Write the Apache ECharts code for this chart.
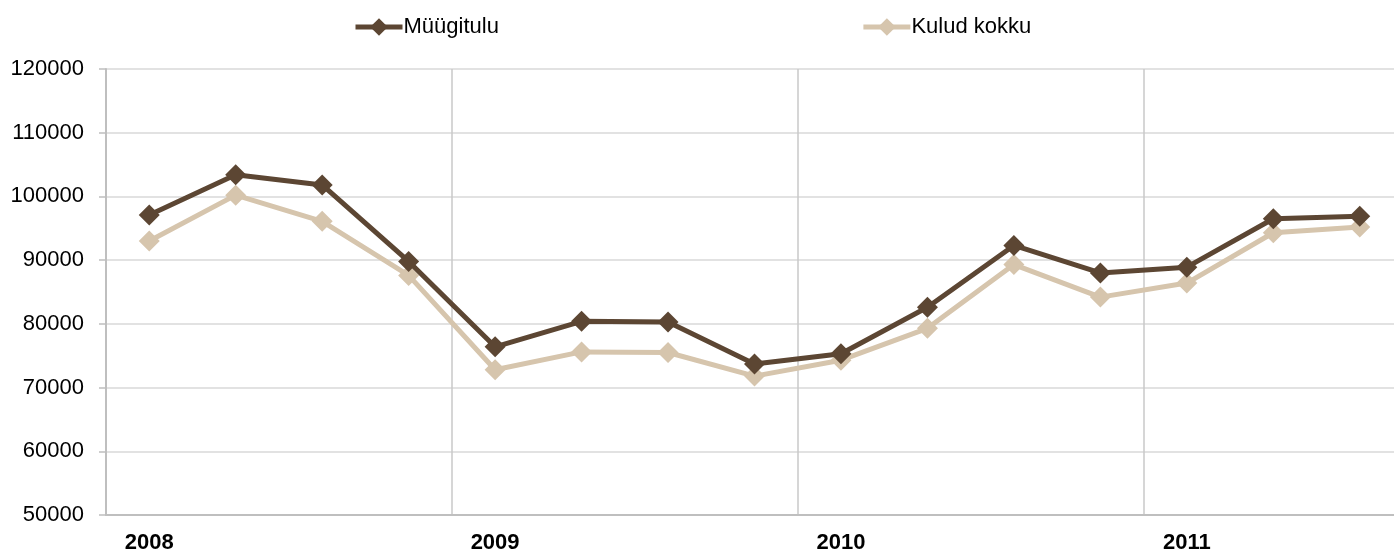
<!DOCTYPE html>
<html>
<head>
<meta charset="utf-8">
<script src="https://cdn.jsdelivr.net/npm/echarts@6/dist/echarts.min.js"></script>
<style>
html,body{margin:0;padding:0;background:#fff;}
#chart{width:1394px;height:551px;}
</style>
</head>
<body>
<div id="chart"></div>
<script>
const categories = ['2008 I','2008 II','2008 III','2008 IV','2009 I','2009 II','2009 III','2009 IV','2010 I','2010 II','2010 III','2010 IV','2011 I','2011 II','2011 III'];
const myygitulu = [97100, 103400, 101800, 89800, 76400, 80400, 80300, 73700, 75300, 82600, 92300, 88000, 88900, 96500, 96900];
const kuludKokku = [93000, 100200, 96100, 87600, 72800, 75600, 75500, 71800, 74300, 79300, 89300, 84200, 86400, 94300, 95200];
const seriesNames = ['Müügitulu', 'Kulud kokku'];

const chart = echarts.init(document.getElementById('chart'));
const font = '"Liberation Sans", Arial, sans-serif';
const c1 = '#5c4633', c2 = '#d6c5ad';
chart.setOption({
  animation: false,
  textStyle: {fontFamily: font},
  legend: {
    left: 353, top: 16, padding: 0,
    itemWidth: 47, itemHeight: 22, itemGap: 362,
    textStyle: {fontSize: 22, color: '#000', fontFamily: font, padding: [0,0,0,-4]},
    data: [
      {name: seriesNames[0], lineStyle: {width: 5, color: c1}, itemStyle: {color: c1}},
      {name: seriesNames[1], lineStyle: {width: 5, color: c2}, itemStyle: {color: c2}}
    ]
  },
  grid: {left: 106, top: 69, width: 1297, height: 446, containLabel: false, outerBoundsMode: 'none'},
  xAxis: {
    type: 'category', data: categories, boundaryGap: true,
    axisLine: {lineStyle: {color: '#bfbfbf', width: 2}},
    axisTick: {show: false, interval: 3},
    axisLabel: {interval: 3, margin: 17, fontSize: 22, fontWeight: 'bold', color: '#000', fontFamily: font,
      formatter: v => v.split(' ')[0]},
    splitLine: {show: true, interval: 3, lineStyle: {color: '#c8c8c8', width: 1.5}}
  },
  yAxis: {
    type: 'value', min: 50000, max: 120000, interval: 10000,
    axisLine: {show: true, lineStyle: {color: '#bfbfbf', width: 2}},
    axisTick: {show: true, length: 7, lineStyle: {color: '#bfbfbf', width: 1.5}},
    axisLabel: {margin: 22, fontSize: 22, color: '#000', fontFamily: font, formatter: v => String(v)},
    splitLine: {lineStyle: {color: '#d9d9d9', width: 1.5}}
  },
  series: [
    {name: seriesNames[0], type: 'line', data: myygitulu, z: 3,
      symbol: 'diamond', symbolSize: 21,
      lineStyle: {color: c1, width: 5},
      itemStyle: {color: c1}},
    {name: seriesNames[1], type: 'line', data: kuludKokku, z: 2,
      symbol: 'diamond', symbolSize: 21,
      lineStyle: {color: c2, width: 5},
      itemStyle: {color: c2}}
  ]
});
</script>
</body>
</html>
